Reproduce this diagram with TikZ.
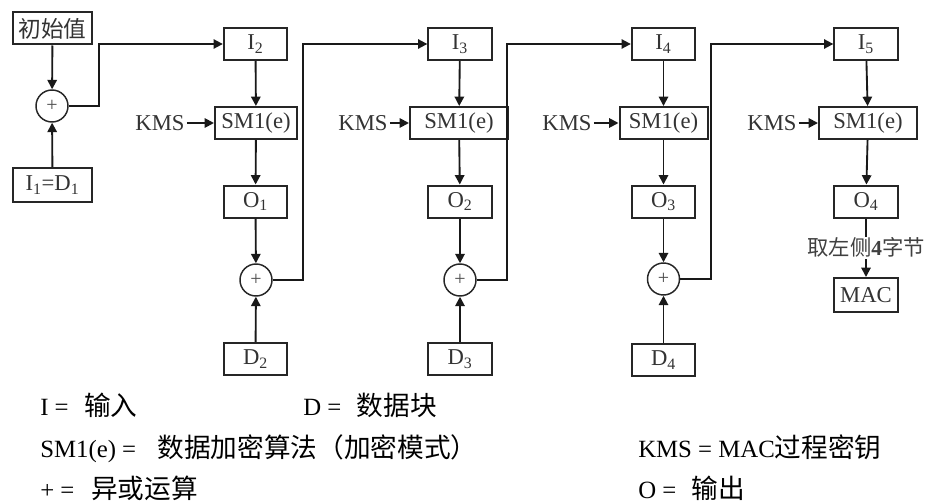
\documentclass[tikz,border=0pt]{standalone}
\usepackage{fontspec}
\setmainfont{Liberation Serif}
\newfontfamily\cjk{Noto Sans CJK SC}
\usetikzlibrary{arrows.meta}
\newcommand\zh[1]{{\cjk #1}}
\newcommand\zhL[1]{{\cjk\fontsize{20}{22}\selectfont #1}}
\newcommand\sub[1]{\textsubscript{#1}}
\begin{document}
\begin{tikzpicture}[x=0.75pt,y=-0.75pt,
  box/.style={draw=black!85, line width=1.5pt, minimum height=24pt, minimum width=47.5pt, inner sep=0pt,
    font=\fontsize{17}{18}\selectfont, text=black!80},
  xor/.style={draw=black!85, circle, line width=1.1pt, minimum size=24pt, inner sep=0pt,
    font=\fontsize{15}{16}\selectfont, text=black!70},
  arr/.style={line width=1.4pt, draw=black!90, -{Triangle[length=7pt,width=7pt]}},
  lbl/.style={font=\fontsize{17}{18}\selectfont, text=black!80, inner sep=1.5pt},
  leg/.style={anchor=base west, inner sep=0pt, font=\fontsize{18.6}{20}\selectfont}]
\useasboundingbox (0,0) rectangle (928,503);

% column 0
\node[box, minimum width=59.25pt] (init) at (52.5,28.5) {\zh{初始值}};
\node[xor] (x1) at (52,106) {+};
\node[box, minimum width=59.25pt, minimum height=25.5pt] (d1) at (52.5,185) {I\sub{1}=D\sub{1}};

% column 1
\node[box] (i2) at (255.5,44) {I\sub{2}};
\node[box, minimum width=61.5pt] (s1) at (256,123) {SM1(e)};
\node[lbl] (k1) at (160,123) {KMS};
\node[box] (o1) at (255.5,201.5) {O\sub{1}};
\node[xor] (x2) at (256,280) {+};
\node[box] (d2) at (255.5,359) {D\sub{2}};

% column 2
\node[box] (i3) at (460,44) {I\sub{3}};
\node[box, minimum width=73.5pt] (s2) at (459,123) {SM1(e)};
\node[lbl] (k2) at (363,123) {KMS};
\node[box] (o2) at (460,201.5) {O\sub{2}};
\node[xor] (x3) at (460,280) {+};
\node[box] (d3) at (460,359) {D\sub{3}};

% column 3
\node[box] (i4) at (663.5,44) {I\sub{4}};
\node[box, minimum width=66pt] (s3) at (663.5,123) {SM1(e)};
\node[lbl] (k3) at (567,123) {KMS};
\node[box] (o3) at (663.5,201.5) {O\sub{3}};
\node[xor] (x4) at (663.5,279) {+};
\node[box] (d4) at (663.5,360) {D\sub{4}};

% column 4
\node[box] (i5) at (866,44) {I\sub{5}};
\node[box, minimum width=73.5pt] (s4) at (868,123) {SM1(e)};
\node[lbl] (k4) at (772,123) {KMS};
\node[box] (o4) at (866,201.5) {O\sub{4}};
\node[box, minimum height=25.5pt] (mac) at (866,295) {MAC};

% vertical feedback lines
\coordinate (v1) at (99,0);
\coordinate (v2) at (303,0);
\coordinate (v3) at (507,0);
\coordinate (v4) at (711,0);

% connectors
\draw[arr] (init) -- (x1);
\draw[arr] (d1) -- (x1);
\draw[arr] (x1.east) -| (v1 |- i2.west) -- (i2.west);

\draw[arr] (i2) -- (s1);
\draw[arr] (k1) -- (s1);
\draw[arr] (s1) -- (o1);
\draw[arr] (o1) -- (x2);
\draw[arr] (d2) -- (x2);
\draw[arr] (x2.east) -| (v2 |- i3.west) -- (i3.west);

\draw[arr] (i3) -- (s2);
\draw[arr] (k2) -- (s2);
\draw[arr] (s2) -- (o2);
\draw[arr] (o2) -- (x3);
\draw[arr] (d3) -- (x3);
\draw[arr] (x3.east) -| (v3 |- i4.west) -- (i4.west);

\draw[arr] (i4) -- (s3);
\draw[arr] (k3) -- (s3);
\draw[arr] (s3) -- (o3);
\draw[arr] (o3) -- (x4);
\draw[arr] (d4) -- (x4);
\draw[arr] (x4.east) -| (v4 |- i5.west) -- (i5.west);

\draw[arr] (i5) -- (s4);
\draw[arr] (k4) -- (s4);
\draw[arr] (s4) -- (o4);
\draw[arr] (o4) -- node[fill=white, inner sep=1pt, font=\fontsize{16}{18}\selectfont, text=black!75] (take) {\zh{取左侧}\textbf{4}\zh{字节}} (mac);

% legend
\node[leg] (l1) at (40,415) {I =\hspace{11.5pt}\zhL{输入}};
\node[leg] (l2) at (303,415) {D =\hspace{11.5pt}\zhL{数据块}};
\node[leg] (l3) at (40,457) {SM1(e) =\hspace{16pt}\zhL{数据加密算法（加密模式）}};
\node[leg] (l4) at (638,457) {KMS = MAC\zhL{过程密钥}};
\node[leg] (l5) at (40,498) {+ =\hspace{12.5pt}\zhL{异或运算}};
\node[leg] (l6) at (638,498) {O =\hspace{11.5pt}\zhL{输出}};
\end{tikzpicture}
\end{document}
